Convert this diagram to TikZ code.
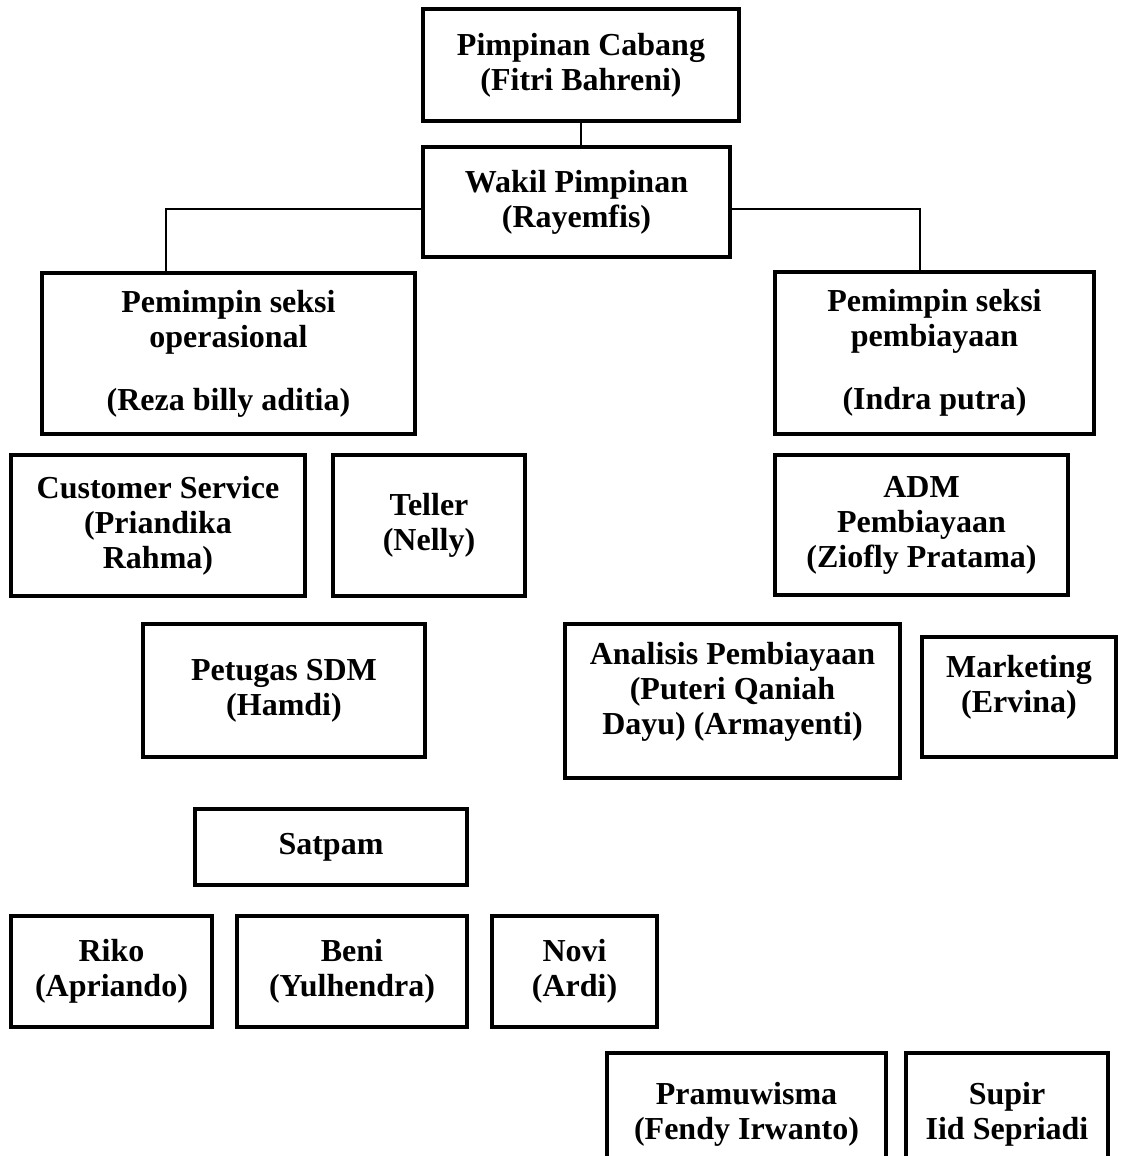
\documentclass[tikz,border=0pt]{standalone}
\usepackage{fontspec}
\setmainfont{Liberation Serif}
\tikzset{
  box/.style={draw,line width=2pt,align=center,inner sep=0pt,
    font=\fontsize{16}{17.5}\selectfont\bfseries},
  conn/.style={line width=1pt}
}

\begin{document}
\begin{tikzpicture}[x=0.5pt,y=-0.5pt]
    \useasboundingbox (0,0) rectangle (1120,1156);
    % top of the chart
    \node[box,minimum width=158pt,minimum height=56pt] (pc) at (581,65)
      {Pimpinan Cabang\\(Fitri Bahreni)};
    \node[box,minimum width=153.5pt,minimum height=55pt] (wk) at (576.5,202)
      {Wakil Pimpinan\\(Rayemfis)};
    \node[box,minimum width=186.5pt,minimum height=80.5pt] (ops) at (228.5,353.5)
      {Pemimpin seksi\\operasional\\[14pt](Reza billy aditia)};
    \node[box,minimum width=159.5pt,minimum height=81pt] (pem) at (934.5,353)
      {Pemimpin seksi\\pembiayaan\\[14pt](Indra putra)};
    \draw[conn] (pc.south) -- (pc.south |- wk.north);
    \draw[conn] ([yshift=-3.5pt]wk.west) -| ([xshift=63pt]ops.north west);
    \draw[conn] ([yshift=-3.5pt]wk.east) -| ([xshift=73.5pt]pem.north west);
    % operasional side
    \node[box,minimum width=147pt,minimum height=70.5pt] (cs) at (158,525.5)
      {Customer Service\\(Priandika\\Rahma)};
    \node[box,minimum width=96pt,minimum height=70.5pt] (tel) at (429,525.5)
      {Teller\\(Nelly)};
    \node[box,minimum width=141pt,minimum height=66.5pt] (sdm) at (284,690.5)
      {Petugas SDM\\(Hamdi)};
    \node[box,minimum width=136pt,minimum height=38pt] (sat) at (331,847) {Satpam};
    \foreach \nm/\x/\w/\txt in {
      riko/111.5/100.5/{Riko\\(Apriando)},
      beni/352/115/{Beni\\(Yulhendra)},
      novi/574.5/82.5/{Novi\\(Ardi)}}{
      \node[box,minimum width=\w pt,minimum height=55.5pt] (\nm) at (\x,971.5) {\txt};
    }
    % pembiayaan side
    \node[box,minimum width=146.5pt,minimum height=70pt] (adm) at (921.5,525)
      {ADM\\Pembiayaan\\(Ziofly Pratama)};
    \node[box,minimum width=167.5pt,minimum height=77pt,text depth=12.5pt] (ana) at (732.5,701)
      {Analisis Pembiayaan\\(Puteri Qaniah\\Dayu) (Armayenti)};
    \node[box,minimum width=97pt,minimum height=60pt,text depth=13.5pt] (mkt) at (1019,697)
      {Marketing\\(Ervina)};
    \node[box,minimum width=139.5pt,minimum height=61pt] (pram) at (746.5,1114)
      {Pramuwisma\\(Fendy Irwanto)};
    \node[box,minimum width=101pt,minimum height=61pt] (sup) at (1007,1114)
      {Supir\\Iid Sepriadi};
  \end{tikzpicture}
\end{document}
